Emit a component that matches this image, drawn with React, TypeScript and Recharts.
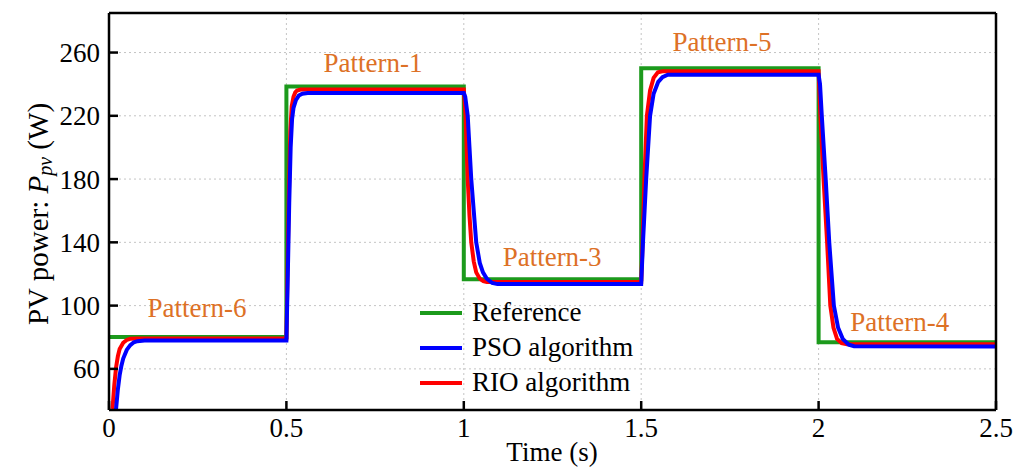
import { LineChart, Line, XAxis, YAxis, CartesianGrid, Legend, ReferenceDot } from 'recharts';

// time (s) and power (W)
const refTime = [0, 0.5, 0.5, 1, 1, 1.5, 1.5, 2, 2, 2.5];
const refPower = [80.2, 80.2, 238.5, 238.5, 116.6, 116.6, 250, 250, 76.8, 76.8];

const rioTime = [
  0, 0.01, 0.015, 0.02, 0.025, 0.03, 0.04, 0.05, 0.06, 0.08,
  0.5, 0.503, 0.507, 0.511, 0.515, 0.52, 0.525, 0.53, 0.54,
  1.0, 1.005, 1.011, 1.016, 1.021, 1.028, 1.035, 1.045, 1.055, 1.065,
  1.5, 1.504, 1.509, 1.516, 1.525, 1.535, 1.547, 1.56,
  2.0, 2.005, 2.014, 2.024, 2.033, 2.042, 2.052, 2.065, 2.08, 2.5,
];
const rioPower = [
  15, 35, 50, 61, 68, 72.5, 76.5, 78.3, 79, 79.2,
  79.2, 120, 170, 210, 226, 232, 234.8, 236, 236.6,
  236.6, 220, 180, 157, 140, 128, 121, 117, 115.5, 115,
  115, 140, 180, 220, 236, 244, 247.5, 248.1,
  248.1, 220, 180, 140, 100, 86, 79, 76.2, 75.6, 75.6,
];

const psoTime = [
  0, 0.02, 0.025, 0.03, 0.035, 0.04, 0.05, 0.06, 0.07, 0.08, 0.1,
  0.5, 0.504, 0.508, 0.512, 0.516, 0.52, 0.527, 0.535, 0.545, 0.56,
  1.0, 1.004, 1.011, 1.016, 1.021, 1.028, 1.035, 1.045, 1.054, 1.065, 1.08, 1.095,
  1.5, 1.505, 1.514, 1.525, 1.535, 1.548, 1.56, 1.575,
  2.0, 2.004, 2.009, 2.02, 2.03, 2.043, 2.055, 2.068, 2.085, 2.1, 2.5,
];
const psoPower = [
  5, 35, 47, 56, 62, 66.5, 72, 75, 76.8, 77.5, 77.9,
  77.9, 120, 165, 200, 218, 225, 230, 232.8, 234, 234.4,
  234.4, 232, 220, 200, 180, 160, 140, 127, 121, 117, 114.3, 113.6,
  113.6, 140, 180, 220, 234, 241.5, 244.5, 246,
  246, 240, 220, 180, 140, 100, 86, 79, 75.3, 74.3, 74.1,
];

const xTicks = [0, 0.5, 1, 1.5, 2, 2.5];
const yTicks = [60, 100, 140, 180, 220, 260];

const patternNames = ['Pattern-6', 'Pattern-1', 'Pattern-3', 'Pattern-5', 'Pattern-4'];
const patternTime = [0.248, 0.744, 1.249, 1.728, 2.229];
const patternPower = [98.6, 254, 131, 267, 90];

const FONT = '"Liberation Serif", "Times New Roman", serif';
const GREEN = '#1c9a1c';
const BLUE = '#0000ff';
const RED = '#ff0000';
const ORANGE = '#dd7126';

const zip = (t: number[], p: number[]) => t.map((x, i) => ({ t: x, p: p[i] }));

const refData = zip(refTime, refPower);
const rioData = zip(rioTime, rioPower);
const psoData = zip(psoTime, psoPower);

const legendItems = [
  { name: 'Reference', color: GREEN },
  { name: 'PSO algorithm', color: BLUE },
  { name: 'RIO algorithm', color: RED },
];

const LegendBox = () => (
  <div style={{ fontFamily: FONT, fontSize: 27, color: '#000' }}>
    {legendItems.map((it) => (
      <div key={it.name} style={{ display: 'flex', alignItems: 'center', height: 35 }}>
        <svg width={52} height={10}>
          <line x1={0} y1={5} x2={42} y2={5} stroke={it.color} strokeWidth={4} />
        </svg>
        <span style={{ lineHeight: '35px' }}>{it.name}</span>
      </div>
    ))}
  </div>
);

const axisStyle = { stroke: '#000', strokeWidth: 2.5 };
const tickFont = { fontFamily: FONT, fontSize: 27, fill: '#000' };

export default function App() {
  return (
    <div style={{ position: 'absolute', left: 0, top: 0, width: 1015, height: 468 }}>
      <LineChart
        width={1015}
        height={468}
        margin={{ top: 12, right: 18, bottom: 8, left: 49 }}
        style={{ fontFamily: FONT }}
      >
        <CartesianGrid stroke="#c4c4c4" strokeDasharray="2 3" strokeWidth={1} />
        <XAxis
          type="number"
          dataKey="t"
          domain={[0, 2.5]}
          ticks={xTicks}
          allowDataOverflow
          height={50}
          axisLine={axisStyle}
          tickLine={axisStyle}
          tickSize={-9}
          tickMargin={17}
          tick={tickFont}
          label={{
            content: () => (
              <text x={552} y={452} textAnchor="middle" dominantBaseline="central" fontFamily={FONT} fontSize={27} fill="#000">
                Time (s)
              </text>
            ),
          }}
        />
        <XAxis
          xAxisId="top"
          orientation="top"
          type="number"
          dataKey="t"
          domain={[0, 2.5]}
          ticks={xTicks}
          height={1}
          axisLine={axisStyle}
          tickLine={axisStyle}
          tickSize={-9}
          tick={false}
        />
        <YAxis
          type="number"
          domain={[34, 285]}
          ticks={yTicks}
          allowDataOverflow
          width={60}
          axisLine={axisStyle}
          tickLine={axisStyle}
          tickSize={-9}
          tickMargin={18}
          tick={tickFont}
          label={{
            content: () => (
              <text
                x={38}
                y={214}
                transform="rotate(-90 38 214)"
                textAnchor="middle"
                dominantBaseline="central"
                fontFamily={FONT}
                fontSize={29}
                fill="#000"
              >
                PV power:{' '}
                <tspan fontStyle="italic">P</tspan>
                <tspan fontStyle="italic" fontSize={20} dy={7}>pv</tspan>
                <tspan dy={-7}> (W)</tspan>
              </text>
            ),
          }}
        />
        <YAxis
          yAxisId="right"
          orientation="right"
          type="number"
          domain={[34, 285]}
          ticks={yTicks}
          width={1}
          axisLine={axisStyle}
          tickLine={axisStyle}
          tickSize={-9}
          tick={false}
        />
        <Legend
          layout="vertical"
          align="center"
          verticalAlign="middle"
          wrapperStyle={{ left: 420, top: 295, width: 'auto' }}
          content={() => <LegendBox />}
        />
        <Line data={refData} dataKey="p" name="Reference" type="linear" stroke={GREEN} strokeWidth={4} dot={false} activeDot={false} isAnimationActive={false} />
        <Line data={rioData} dataKey="p" name="RIO algorithm" type="linear" stroke={RED} strokeWidth={4} dot={false} activeDot={false} isAnimationActive={false} />
        <Line data={psoData} dataKey="p" name="PSO algorithm" type="linear" stroke={BLUE} strokeWidth={4} dot={false} activeDot={false} isAnimationActive={false} />
        {patternNames.map((name, i) => (
          <ReferenceDot
            key={name}
            x={patternTime[i]}
            y={patternPower[i]}
            r={0}
            fill="none"
            stroke="none"
            ifOverflow="visible"
            label={{ value: name, position: 'center', fill: ORANGE, fontSize: 27, fontFamily: FONT }}
          />
        ))}
      </LineChart>
    </div>
  );
}
